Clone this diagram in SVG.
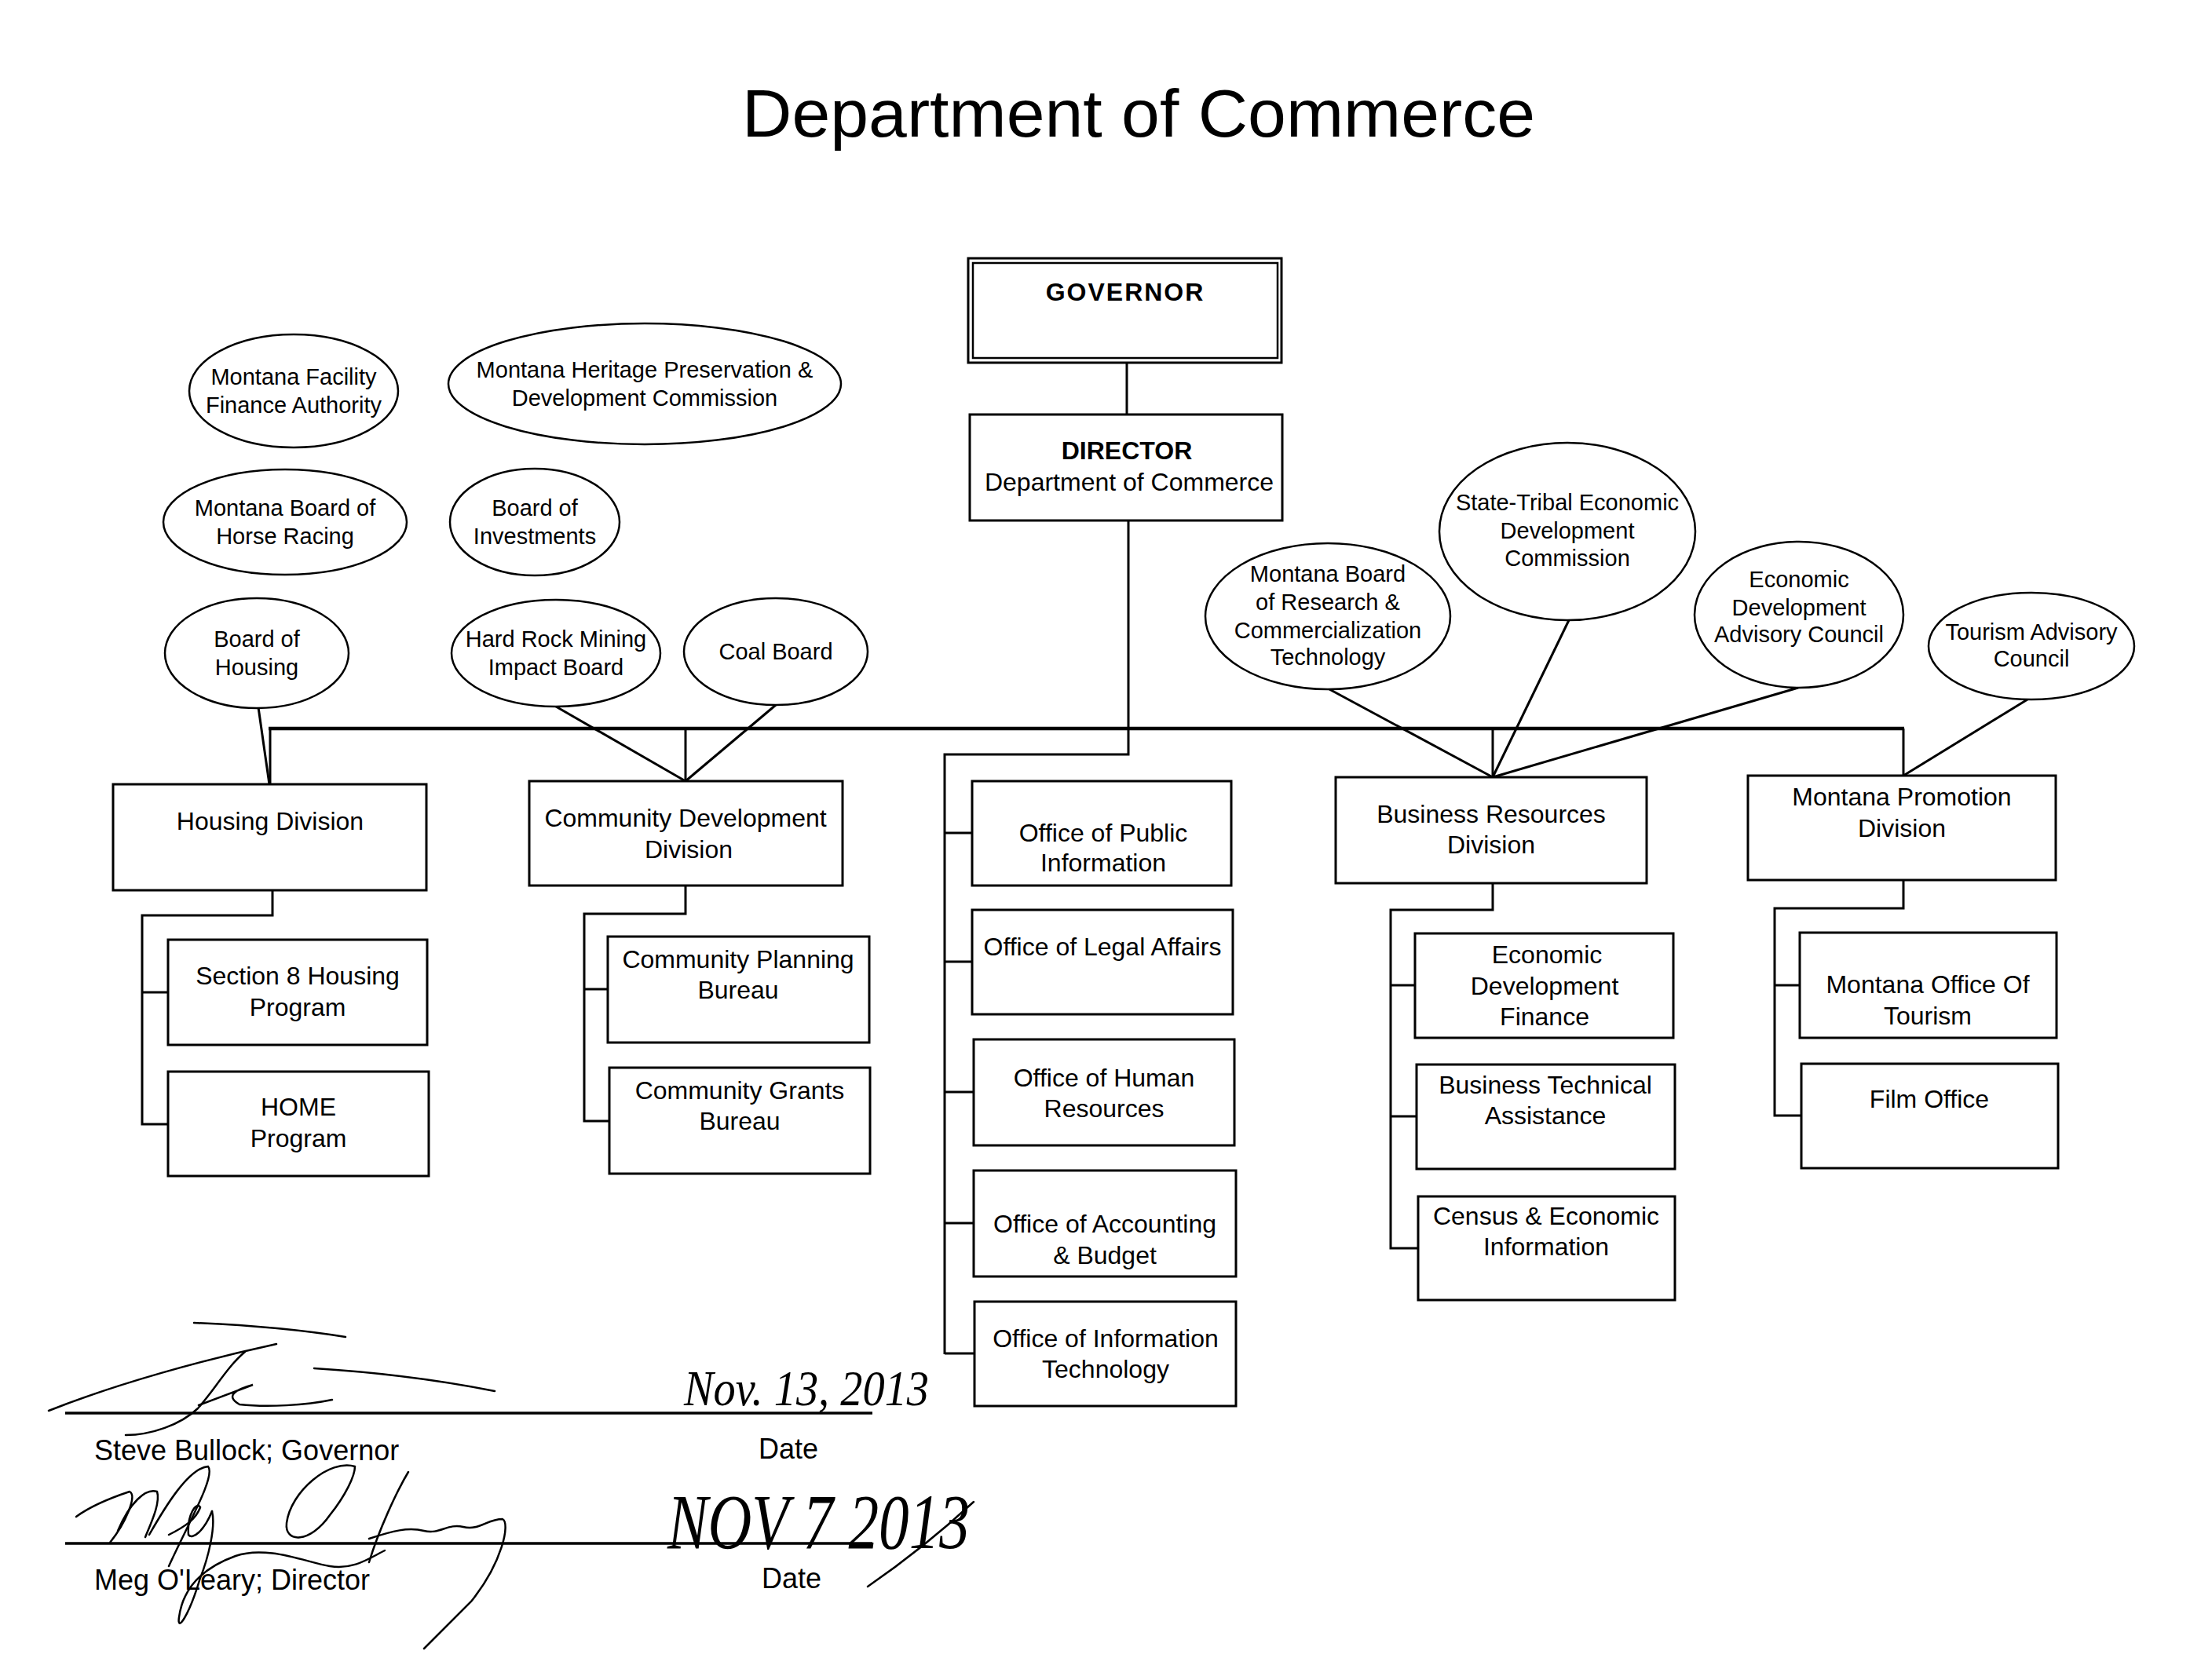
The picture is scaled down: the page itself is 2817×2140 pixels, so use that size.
<svg xmlns="http://www.w3.org/2000/svg" width="2817" height="2140" viewBox="0 0 2817 2140">
<style>
.bg{fill:#fff}
.box{fill:#fff;stroke:#000;stroke-width:3}
.ell{fill:#fff;stroke:#000;stroke-width:2.5}
.t{font-family:"Liberation Sans",Arial,sans-serif;font-size:32px;text-anchor:middle;fill:#000}
.te{font-size:29px}
.b{font-weight:bold}
.ln{stroke:#000;stroke-width:3;fill:none}
.bus{stroke-width:4.5}
.sig{stroke:#000;stroke-width:2.5;fill:none;stroke-linecap:round}
.hw{font-family:"Liberation Serif",serif;font-style:italic;fill:#000}
.lbl{font-family:"Liberation Sans",Arial,sans-serif;font-size:36px;fill:#000}
</style>
<rect class="bg" x="0" y="0" width="2817" height="2140"/>
<text x="1450" y="174" font-family="Liberation Sans, Arial, sans-serif" font-size="86" text-anchor="middle" textLength="1010" lengthAdjust="spacingAndGlyphs">Department of Commerce</text>

<g id="connectors">
  <line class="ln" x1="1435" y1="463" x2="1435" y2="528"/>
  <polyline class="ln" points="1437,663 1437,961 1203,961 1203,1725"/>
  <line class="ln bus" x1="342" y1="928" x2="2425" y2="928"/>
  <line class="ln" x1="344" y1="928" x2="344" y2="999"/>
  <line class="ln" x1="873" y1="928" x2="873" y2="995"/>
  <line class="ln" x1="1901" y1="928" x2="1901" y2="990"/>
  <line class="ln" x1="2424" y1="928" x2="2424" y2="988"/>
  <line class="ln" x1="1203" y1="1061" x2="1238" y2="1061"/>
  <line class="ln" x1="1203" y1="1225" x2="1238" y2="1225"/>
  <line class="ln" x1="1203" y1="1391" x2="1240" y2="1391"/>
  <line class="ln" x1="1203" y1="1558" x2="1240" y2="1558"/>
  <line class="ln" x1="1203" y1="1724" x2="1241" y2="1724"/>
  <polyline class="ln" points="347,1134 347,1166 181,1166 181,1432 214,1432"/>
  <line class="ln" x1="181" y1="1264" x2="214" y2="1264"/>
  <polyline class="ln" points="873,1128 873,1164 744,1164 744,1428 776,1428"/>
  <line class="ln" x1="744" y1="1260" x2="774" y2="1260"/>
  <polyline class="ln" points="1901,1125 1901,1159 1771,1159 1771,1590 1806,1590"/>
  <line class="ln" x1="1771" y1="1255" x2="1802" y2="1255"/>
  <line class="ln" x1="1771" y1="1422" x2="1804" y2="1422"/>
  <polyline class="ln" points="2424,1121 2424,1157 2260,1157 2260,1421 2294,1421"/>
  <line class="ln" x1="2260" y1="1255" x2="2292" y2="1255"/>
  <line class="ln" x1="329" y1="901" x2="343" y2="999"/>
  <line class="ln" x1="708" y1="900" x2="873" y2="995"/>
  <line class="ln" x1="988" y1="898" x2="873" y2="995"/>
  <line class="ln" x1="1693" y1="878" x2="1901" y2="990"/>
  <line class="ln" x1="1998" y1="790" x2="1901" y2="990"/>
  <line class="ln" x1="2290" y1="876" x2="1901" y2="990"/>
  <line class="ln" x1="2582" y1="891" x2="2424" y2="988"/>
</g>

<g id="governor">
  <rect class="box" x="1233" y="329" width="399" height="133"/>
  <rect x="1239" y="335" width="388" height="121" fill="none" stroke="#000" stroke-width="2.5"/>
  <text class="t b" x="1433" y="383" font-size="33" letter-spacing="2">GOVERNOR</text>
</g>
<g id="director">
  <rect class="box" x="1235" y="528" width="398" height="135"/>
  <text class="t b" x="1435" y="585">DIRECTOR</text>
  <text class="t" x="1438" y="625">Department of Commerce</text>
</g>

<g id="montana-facility-finance-authority">
  <ellipse class="ell" cx="374" cy="498" rx="133" ry="72"/>
  <text class="t te" x="374" y="490">Montana Facility</text>
  <text class="t te" x="374" y="526">Finance Authority</text>
</g>
<g id="montana-heritage">
  <ellipse class="ell" cx="821" cy="489" rx="250" ry="77"/>
  <text class="t te" x="821" y="481">Montana Heritage Preservation &amp;</text>
  <text class="t te" x="821" y="517">Development Commission</text>
</g>
<g id="horse-racing">
  <ellipse class="ell" cx="363" cy="665" rx="155" ry="67"/>
  <text class="t te" x="363" y="657">Montana Board of</text>
  <text class="t te" x="363" y="693">Horse Racing</text>
</g>
<g id="board-of-investments">
  <ellipse class="ell" cx="681" cy="665" rx="108" ry="68"/>
  <text class="t te" x="681" y="657">Board of</text>
  <text class="t te" x="681" y="693">Investments</text>
</g>
<g id="board-of-housing">
  <ellipse class="ell" cx="327" cy="832" rx="117" ry="70"/>
  <text class="t te" x="327" y="824">Board of</text>
  <text class="t te" x="327" y="860">Housing</text>
</g>
<g id="hard-rock-mining">
  <ellipse class="ell" cx="708" cy="832" rx="133" ry="68"/>
  <text class="t te" x="708" y="824">Hard Rock Mining</text>
  <text class="t te" x="708" y="860">Impact Board</text>
</g>
<g id="coal-board">
  <ellipse class="ell" cx="988" cy="830" rx="117" ry="68"/>
  <text class="t te" x="988" y="840">Coal Board</text>
</g>
<g id="research-commercialization">
  <ellipse class="ell" cx="1691" cy="785" rx="156" ry="93"/>
  <text class="t te" x="1691" y="741">Montana Board</text>
  <text class="t te" x="1691" y="777">of Research &amp;</text>
  <text class="t te" x="1691" y="813">Commercialization</text>
  <text class="t te" x="1691" y="847">Technology</text>
</g>
<g id="state-tribal">
  <ellipse class="ell" cx="1996" cy="677" rx="163" ry="113"/>
  <text class="t te" x="1996" y="650">State-Tribal Economic</text>
  <text class="t te" x="1996" y="686">Development</text>
  <text class="t te" x="1996" y="721">Commission</text>
</g>
<g id="econ-dev-advisory">
  <ellipse class="ell" cx="2291" cy="783" rx="133" ry="93"/>
  <text class="t te" x="2291" y="748">Economic</text>
  <text class="t te" x="2291" y="784">Development</text>
  <text class="t te" x="2291" y="818">Advisory Council</text>
</g>
<g id="tourism-advisory">
  <ellipse class="ell" cx="2587" cy="823" rx="131" ry="68"/>
  <text class="t te" x="2587" y="815">Tourism Advisory</text>
  <text class="t te" x="2587" y="849">Council</text>
</g>

<g id="housing-division">
  <rect class="box" x="144" y="999" width="399" height="135"/>
  <text class="t" x="344" y="1057">Housing Division</text>
</g>
<g id="community-development-division">
  <rect class="box" x="674" y="995" width="399" height="133"/>
  <text class="t" x="873" y="1053">Community Development</text>
  <text class="t" x="877" y="1093">Division</text>
</g>
<g id="business-resources-division">
  <rect class="box" x="1701" y="990" width="396" height="135"/>
  <text class="t" x="1899" y="1048">Business Resources</text>
  <text class="t" x="1899" y="1087">Division</text>
</g>
<g id="montana-promotion-division">
  <rect class="box" x="2226" y="988" width="392" height="133"/>
  <text class="t" x="2422" y="1026">Montana Promotion</text>
  <text class="t" x="2422" y="1066">Division</text>
</g>

<g id="section-8">
  <rect class="box" x="214" y="1197" width="330" height="134"/>
  <text class="t" x="379" y="1254">Section 8 Housing</text>
  <text class="t" x="379" y="1294">Program</text>
</g>
<g id="home-program">
  <rect class="box" x="214" y="1365" width="332" height="133"/>
  <text class="t" x="380" y="1421">HOME</text>
  <text class="t" x="380" y="1461">Program</text>
</g>
<g id="community-planning">
  <rect class="box" x="774" y="1193" width="333" height="135"/>
  <text class="t" x="940" y="1233">Community Planning</text>
  <text class="t" x="940" y="1272">Bureau</text>
</g>
<g id="community-grants">
  <rect class="box" x="776" y="1360" width="332" height="135"/>
  <text class="t" x="942" y="1400">Community Grants</text>
  <text class="t" x="942" y="1439">Bureau</text>
</g>

<g id="office-public-information">
  <rect class="box" x="1238" y="995" width="330" height="133"/>
  <text class="t" x="1405" y="1072">Office of Public</text>
  <text class="t" x="1405" y="1110">Information</text>
</g>
<g id="office-legal-affairs">
  <rect class="box" x="1238" y="1159" width="332" height="133"/>
  <text class="t" x="1404" y="1217">Office of Legal Affairs</text>
</g>
<g id="office-human-resources">
  <rect class="box" x="1240" y="1324" width="332" height="135"/>
  <text class="t" x="1406" y="1384">Office of Human</text>
  <text class="t" x="1406" y="1423">Resources</text>
</g>
<g id="office-accounting-budget">
  <rect class="box" x="1240" y="1491" width="334" height="135"/>
  <text class="t" x="1407" y="1570">Office of Accounting</text>
  <text class="t" x="1407" y="1610">&amp; Budget</text>
</g>
<g id="office-information-technology">
  <rect class="box" x="1241" y="1658" width="333" height="133"/>
  <text class="t" x="1408" y="1716">Office of Information</text>
  <text class="t" x="1408" y="1755">Technology</text>
</g>

<g id="economic-development-finance">
  <rect class="box" x="1802" y="1189" width="329" height="133"/>
  <text class="t" x="1970" y="1227">Economic</text>
  <text class="t" x="1967" y="1267">Development</text>
  <text class="t" x="1967" y="1306">Finance</text>
</g>
<g id="business-technical-assistance">
  <rect class="box" x="1804" y="1356" width="329" height="133"/>
  <text class="t" x="1968" y="1393">Business Technical</text>
  <text class="t" x="1968" y="1432">Assistance</text>
</g>
<g id="census-economic-information">
  <rect class="box" x="1806" y="1524" width="327" height="132"/>
  <text class="t" x="1969" y="1560">Census &amp; Economic</text>
  <text class="t" x="1969" y="1599">Information</text>
</g>
<g id="montana-office-of-tourism">
  <rect class="box" x="2292" y="1188" width="327" height="134"/>
  <text class="t" x="2455" y="1265">Montana Office Of</text>
  <text class="t" x="2455" y="1305">Tourism</text>
</g>
<g id="film-office">
  <rect class="box" x="2294" y="1355" width="327" height="133"/>
  <text class="t" x="2457" y="1411">Film Office</text>
</g>

<g id="signatures">
  <line x1="83" y1="1800" x2="1111" y2="1800" stroke="#000" stroke-width="3.5"/>
  <line x1="83" y1="1966" x2="1111" y2="1966" stroke="#000" stroke-width="3.5"/>
  <text class="lbl" x="120" y="1860">Steve Bullock; Governor</text>
  <text class="lbl" x="1004" y="1858" text-anchor="middle">Date</text>
  <text class="lbl" x="120" y="2025">Meg O'Leary; Director</text>
  <text class="lbl" x="1008" y="2023" text-anchor="middle">Date</text>
  <text class="hw" x="871" y="1790" font-size="64" textLength="312" lengthAdjust="spacingAndGlyphs">Nov. 13, 2013</text>
  <text class="hw" x="850" y="1972" font-size="100" textLength="385" lengthAdjust="spacingAndGlyphs">NOV 7 2013</text>
  <path class="sig" d="M 62 1797 C 150 1762, 260 1732, 352 1712"/>
  <path class="sig" d="M 247 1685 C 320 1688, 390 1695, 440 1703"/>
  <path class="sig" d="M 312 1722 C 290 1740, 272 1772, 252 1794 C 230 1815, 192 1828, 160 1828"/>
  <path class="sig" d="M 253 1790 L 322 1764 C 300 1770, 286 1778, 305 1789 C 340 1793, 390 1790, 423 1783"/>
  <path class="sig" d="M 400 1743 C 480 1748, 560 1758, 630 1772"/>
  <path class="sig" d="M 97 1932 C 120 1915, 150 1905, 165 1900 C 175 1905, 160 1940, 140 1965"/>
  <path class="sig" d="M 150 1950 C 165 1915, 185 1895, 200 1900 C 205 1915, 190 1945, 185 1958"/>
  <path class="sig" d="M 190 1955 C 210 1920, 240 1870, 265 1868 C 275 1880, 240 1940, 215 1995"/>
  <path class="sig" d="M 215 1955 C 235 1945, 250 1935, 255 1920 C 250 1912, 238 1930, 240 1955 C 245 1962, 260 1950, 270 1925"/>
  <path class="sig" d="M 270 1925 C 275 1945, 265 1985, 255 2010 C 240 2060, 225 2080, 228 2060 C 232 2030, 250 2000, 300 1982 C 340 1968, 390 1990, 420 1995 C 450 2000, 470 1985, 490 1975"/>
  <path class="sig" d="M 452 1868 C 420 1858, 370 1900, 365 1940 C 362 1966, 395 1966, 420 1930 C 440 1905, 452 1880, 452 1868"/>
  <path class="sig" d="M 520 1875 C 505 1900, 482 1950, 470 1990"/>
  <path class="sig" d="M 470 1960 C 500 1950, 520 1945, 540 1950 C 560 1955, 570 1940, 590 1945 C 610 1950, 620 1935, 640 1935 C 650 1940, 640 1990, 600 2040 C 580 2060, 560 2080, 540 2100"/>
  <path class="sig" d="M 1105 2021 C 1150 1990, 1200 1950, 1240 1913"/>
</g>
</svg>
